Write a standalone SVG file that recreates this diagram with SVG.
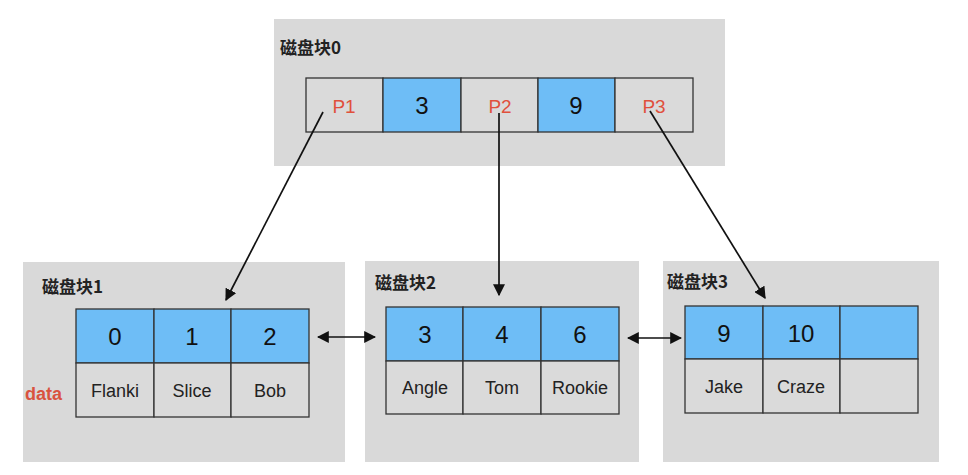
<svg xmlns="http://www.w3.org/2000/svg" width="968" height="475" viewBox="0 0 968 475">
<defs>
<marker id="ah" viewBox="0 0 10 10" refX="9" refY="5" markerWidth="12" markerHeight="12" markerUnits="userSpaceOnUse" orient="auto-start-reverse"><path d="M0,0 L10,5 L0,10 z" fill="#111"/></marker>
</defs>
<style>
.blk{fill:#d9d9d9}
.g{fill:#dadada;stroke:#333;stroke-width:1.3}
.b{fill:#6ebdf6;stroke:#333;stroke-width:1.3}
.ttl{font-family:"Noto Sans CJK SC","Liberation Sans",sans-serif;font-weight:bold;font-size:17px;fill:#222}
.num{font-family:"Liberation Sans",Arial,sans-serif;font-size:24px;fill:#111;text-anchor:middle}
.nm{font-family:"Liberation Sans",Arial,sans-serif;font-size:18px;fill:#222;text-anchor:middle}
.p{font-family:"Liberation Sans",Arial,sans-serif;font-size:19px;fill:#e0503c;text-anchor:middle}
.c{stroke:#111;stroke-width:1.7;fill:none}
</style>
<rect width="968" height="475" fill="#ffffff"/>
<g id="block0">
<rect class="blk" x="274" y="19" width="451" height="147"/>
<text class="ttl" x="280" y="54">磁盘块0</text>
<rect class="g" x="306" y="78" width="77" height="54"/>
<rect class="b" x="383" y="78" width="78" height="54"/>
<rect class="g" x="461" y="78" width="77" height="54"/>
<rect class="b" x="538" y="78" width="77" height="54"/>
<rect class="g" x="615" y="78" width="78" height="54"/>
<text class="p" x="344" y="113">P1</text>
<text class="num" x="422" y="114">3</text>
<text class="p" x="500" y="113">P2</text>
<text class="num" x="576" y="114">9</text>
<text class="p" x="654" y="113">P3</text>
</g>
<g id="block1">
<rect class="blk" x="23" y="262" width="322" height="200"/>
<text class="ttl" x="42" y="293">磁盘块1</text>
<rect class="b" x="76" y="309" width="78" height="54"/>
<rect class="b" x="154" y="309" width="77" height="54"/>
<rect class="b" x="231" y="309" width="78" height="54"/>
<rect class="g" x="76" y="363" width="78" height="54"/>
<rect class="g" x="154" y="363" width="77" height="54"/>
<rect class="g" x="231" y="363" width="78" height="54"/>
<text class="num" x="115" y="345">0</text>
<text class="num" x="192" y="345">1</text>
<text class="num" x="270" y="345">2</text>
<text class="nm" x="115" y="397">Flanki</text>
<text class="nm" x="192" y="397">Slice</text>
<text class="nm" x="270" y="397">Bob</text>
<text x="25" y="400" style="font-family:'Liberation Sans',Arial,sans-serif;font-weight:bold;font-size:18px;fill:#d9533f">data</text>
</g>
<g id="block2">
<rect class="blk" x="365" y="261" width="274" height="201"/>
<text class="ttl" x="375" y="289">磁盘块2</text>
<rect class="b" x="386" y="307" width="77" height="54"/>
<rect class="b" x="463" y="307" width="78" height="54"/>
<rect class="b" x="541" y="307" width="78" height="54"/>
<rect class="g" x="386" y="361" width="77" height="53"/>
<rect class="g" x="463" y="361" width="78" height="53"/>
<rect class="g" x="541" y="361" width="78" height="53"/>
<text class="num" x="425" y="343">3</text>
<text class="num" x="502" y="343">4</text>
<text class="num" x="580" y="343">6</text>
<text class="nm" x="425" y="394">Angle</text>
<text class="nm" x="502" y="394">Tom</text>
<text class="nm" x="580" y="394">Rookie</text>
</g>
<g id="block3">
<rect class="blk" x="663" y="261" width="276" height="201"/>
<text class="ttl" x="667" y="288">磁盘块3</text>
<rect class="b" x="685" y="306" width="78" height="53"/>
<rect class="b" x="763" y="306" width="77" height="53"/>
<rect class="b" x="840" y="306" width="78" height="53"/>
<rect class="g" x="685" y="359" width="78" height="54"/>
<rect class="g" x="763" y="359" width="77" height="54"/>
<rect class="g" x="840" y="359" width="78" height="54"/>
<text class="num" x="724" y="342">9</text>
<text class="num" x="801" y="342">10</text>
<text class="nm" x="724" y="393">Jake</text>
<text class="nm" x="801" y="393">Craze</text>
</g>
<g id="connectors">
<line class="c" x1="323" y1="112" x2="226" y2="300" marker-end="url(#ah)"/>
<line class="c" x1="499" y1="113" x2="499" y2="295" marker-end="url(#ah)"/>
<line class="c" x1="650" y1="111" x2="765" y2="298" marker-end="url(#ah)"/>
<line class="c" x1="318" y1="337" x2="375" y2="337" marker-start="url(#ah)" marker-end="url(#ah)"/>
<line class="c" x1="628" y1="338" x2="681" y2="338" marker-start="url(#ah)" marker-end="url(#ah)"/>
</g>
</svg>
